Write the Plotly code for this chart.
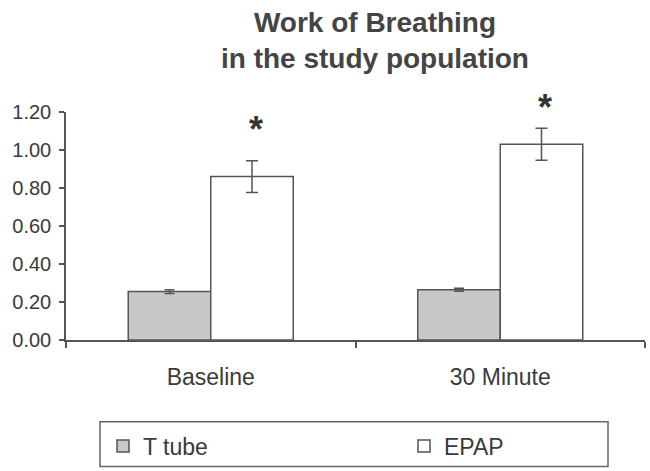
import plotly.graph_objects as go

categories = ["Baseline", "30 Minute"]
t_tube = [0.255, 0.265]
t_tube_err = [0.010, 0.008]
epap = [0.860, 1.030]
epap_err = [0.084, 0.084]
y_ticks = [0.0, 0.2, 0.4, 0.6, 0.8, 1.0, 1.2]
y_tick_labels = ["0.00", "0.20", "0.40", "0.60", "0.80", "1.00", "1.20"]
star_y = [1.11, 1.225]

W, H = 650, 471
L, R, T, B = 66, 5, 112, 130
font_family = "Liberation Sans, Arial, sans-serif"
txt = "#3a3a3a"
edge = "#555555"
y_max = 1.2

fig = go.Figure()
fig.add_trace(go.Bar(
    name="T tube", x=categories, y=t_tube, legend="legend",
    marker=dict(color="#c7c8ca", line=dict(color=edge, width=1.5)),
    error_y=dict(type="data", array=t_tube_err, color=edge, thickness=1.5, width=5),
))
fig.add_trace(go.Bar(
    name="EPAP", x=categories, y=epap, legend="legend2",
    marker=dict(color="#ffffff", line=dict(color=edge, width=1.5)),
    error_y=dict(type="data", array=epap_err, color=edge, thickness=1.5, width=6),
))

for i, c in enumerate(categories):
    fig.add_annotation(x=c, xshift=45, yref="y domain", y=star_y[i] / y_max,
                       text="<b>*</b>", showarrow=False,
                       font=dict(size=36, color="#333", family=font_family), yanchor="middle")

pw = W - L - R
ph = H - T - B
fig.add_annotation(xref="paper", yref="paper", x=(375 - L) / pw, y=1 + (T - 40) / ph,
                   text="<b>Work of Breathing<br>in the study population</b>", showarrow=False,
                   font=dict(size=28, color="#444", family=font_family),
                   xanchor="center", yanchor="middle")

# legend border box
fig.add_shape(type="rect", xref="paper", yref="paper",
              x0=(100 - L) / pw, x1=(608 - L) / pw,
              y0=-(468 - (H - B)) / ph, y1=-(423 - (H - B)) / ph,
              line=dict(color="#666", width=1.5), fillcolor="rgba(0,0,0,0)")

leg_common = dict(orientation="h", xanchor="left", yanchor="middle",
                  y=-(446 - (H - B)) / ph, font=dict(size=23, color=txt),
                  bgcolor="rgba(0,0,0,0)", itemclick=False, itemdoubleclick=False)

fig.update_layout(
    width=W, height=H,
    margin=dict(l=L, r=R, t=T, b=B),
    paper_bgcolor="white", plot_bgcolor="white",
    barmode="group", bargap=0.43, bargroupgap=0,
    font=dict(family=font_family, size=20, color=txt),
    showlegend=True,
    legend=dict(x=(103 - L) / pw, **leg_common),
    legend2=dict(x=(404 - L) / pw, **leg_common),
    xaxis=dict(showline=True, linecolor=edge, linewidth=1.5, ticks="outside",
               tickson="boundaries", ticklen=6, tickcolor=edge, tickwidth=1.5,
               ticklabelstandoff=16, tickfont=dict(size=23, color=txt), showgrid=False),
    yaxis=dict(range=[0, y_max], tickvals=y_ticks, ticktext=y_tick_labels,
               showline=True, linecolor=edge, linewidth=1.5, ticks="outside",
               ticklen=5, tickcolor=edge, tickwidth=1.5, showgrid=False, zeroline=False,
               ticklabelstandoff=4, tickfont=dict(size=20, color=txt)),
)

fig.write_html("out.html")
